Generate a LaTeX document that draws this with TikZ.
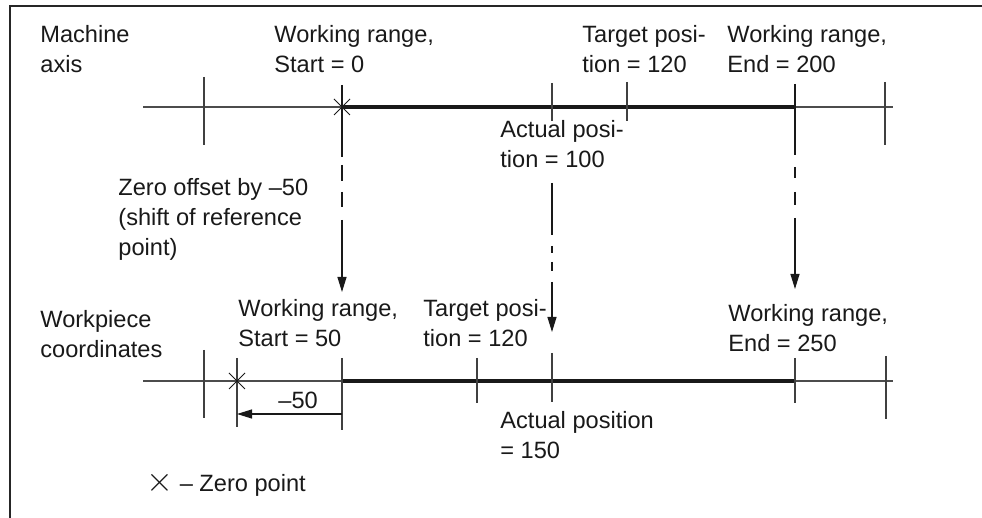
\documentclass[tikz,border=0pt]{standalone}
\usepackage{fontspec}
\setmainfont{Liberation Sans}
\usetikzlibrary{arrows.meta}
\begin{document}
\begin{tikzpicture}[x=0.5pt,y=-0.5pt,
  lbl/.style={anchor=base west, inner sep=0pt, align=left, font=\fontsize{11.8}{15}\selectfont, text=black!90},
  thinax/.style={line width=0.6pt, draw=black!70},
  thickax/.style={line width=1.7pt, draw=black!90},
  tickln/.style={line width=0.6pt, draw=black!75},
  guide/.style={line width=0.6pt, draw=black!90},
  arr/.style={-{Triangle[length=7.5pt,width=4.5pt]}},
  zeromark/.style={line width=0.5pt, draw=black!90},
  frameln/.style={line width=1pt, draw=black!85}
]
\useasboundingbox (0,0) rectangle (982,518);
% frame
\coordinate (fb) at (9.5,518);
\coordinate (fc) at (9.5,6.5);
\coordinate (fr) at (982,6.5);
\draw[frameln] (fb) -- (fc) -- (fr);

% ---------------- machine axis ----------------
\coordinate (mL) at (143,107);
\coordinate (mR) at (893,107);
\coordinate (mS) at (342,107);
\coordinate (mE) at (795,107);
\draw[thinax] (mL) -- (mR);
\draw[thickax] (mS) -- (mE);
% ticks
\draw[tickln] (204,77) -- (204,145);
\draw[tickln] (885,82) -- (885,145);
\draw[tickln] (552,83) -- (552,121);
\draw[tickln] (627,82) -- (627,121);
% zero mark
\draw[zeromark] ([shift={(-8,-8)}]mS) -- ([shift={(8,8)}]mS);
\draw[zeromark] ([shift={(-8,8)}]mS) -- ([shift={(8,-8)}]mS);

% ---------------- workpiece axis ----------------
\coordinate (wL) at (143,381);
\coordinate (wR) at (893,381);
\coordinate (wS) at (342,381);
\coordinate (wE) at (795,381);
\coordinate (wZ) at (237,381);
\draw[thinax] (wL) -- (wR);
\draw[thickax] (wS) -- (wE);
\draw[tickln] (204,350) -- (204,418);
\draw[tickln] (237,358) -- (237,427);
\draw[tickln] (342,358) -- (342,430);
\draw[tickln] (477,358) -- (477,403);
\draw[tickln] (552,353) -- (552,402);
\draw[tickln] (795,358) -- (795,403);
\draw[tickln] (886,356) -- (886,419);
\draw[zeromark] ([shift={(-8,-8)}]wZ) -- ([shift={(8,8)}]wZ);
\draw[zeromark] ([shift={(-8,8)}]wZ) -- ([shift={(8,-8)}]wZ);

% dimension -50
\coordinate (dS) at (342,414);
\coordinate (dZ) at (237,414);
\draw[guide, arr] (dS) -- (dZ);
\node[lbl] (d50) at (278,409) {–50};

% ---------------- projection lines ----------------
% start
\draw[guide] (342,85) -- (342,157);
\draw[guide] (342,165) -- (342,181);
\draw[guide] (342,192) -- (342,207);
\coordinate (sA) at (342,220);
\coordinate (sB) at (342,292);
\draw[guide, arr] (sA) -- (sB);
% end
\draw[guide] (795,84) -- (795,155);
\draw[guide] (795,167) -- (795,178);
\draw[guide] (795,192) -- (795,205);
\coordinate (eA) at (795,218);
\coordinate (eB) at (795,289);
\draw[guide, arr] (eA) -- (eB);
% actual position
\draw[guide] (552,183) -- (552,235);
\draw[guide] (552,246) -- (552,253);
\draw[guide] (552,262) -- (552,271);
\coordinate (aA) at (552,282);
\coordinate (aB) at (552,332);
\draw[guide, arr] (aA) -- (aB);

% ---------------- labels (anchor = baseline of last line) ----------------
\node[lbl] (machine) at (40,73) {Machine\\axis};
\node[lbl] (mstart) at (274,73) {Working range,\\Start = 0};
\node[lbl] (mtarget) at (582,73) {Target posi-\\tion = 120};
\node[lbl] (mend) at (727,73) {Working range,\\End = 200};
\node[lbl] (mactual) at (500,168) {Actual posi-\\tion = 100};
\node[lbl] (offset) at (118,256) {Zero offset by –50\\(shift of reference\\point)};
\node[lbl] (workpiece) at (40,358) {Workpiece\\coordinates};
\node[lbl] (wstart) at (238,347) {Working range,\\Start = 50};
\node[lbl] (wtarget) at (423,347) {Target posi-\\tion = 120};
\node[lbl] (wend) at (728,352) {Working range,\\End = 250};
\node[lbl] (wactual) at (500,459) {Actual position\\= 150};
\node[lbl] (legend) at (146,492) {{\fontsize{16}{15}\selectfont$\times$} – Zero point};
\end{tikzpicture}
\end{document}
